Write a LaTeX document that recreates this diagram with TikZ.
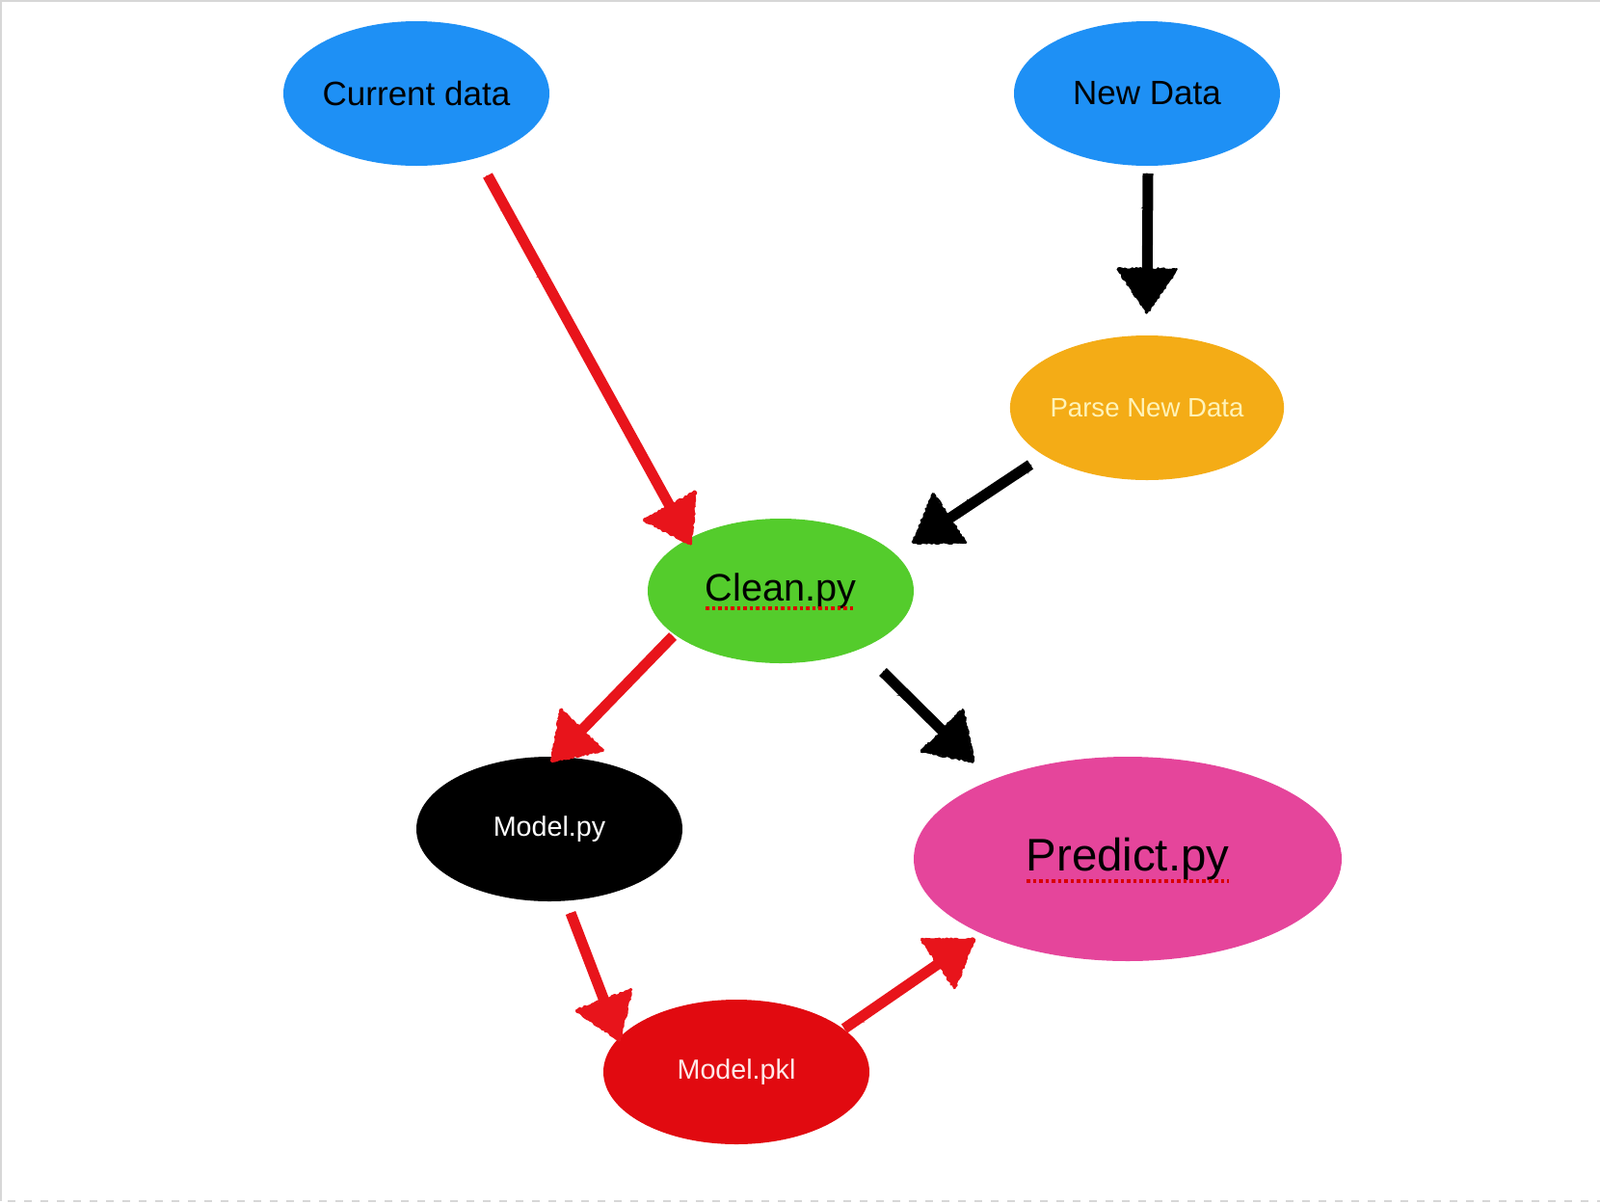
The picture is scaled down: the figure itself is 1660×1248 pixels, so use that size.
\documentclass[tikz,border=0pt]{standalone}
\usepackage{fontspec}
\setmainfont{Liberation Sans}
\usetikzlibrary{arrows.meta,decorations.pathmorphing,shapes.geometric,calc}
\definecolor{cblue}{RGB}{30,144,245}
\definecolor{corange}{RGB}{244,172,22}
\definecolor{cgreen}{RGB}{84,204,44}
\definecolor{cpink}{RGB}{229,69,155}
\definecolor{cred}{RGB}{225,10,16}
\definecolor{carrowred}{RGB}{232,20,27}
\definecolor{cparse}{RGB}{255,243,184}
\definecolor{cpkl}{RGB}{255,232,232}
\definecolor{cframe}{RGB}{215,215,215}
\tikzset{
  blob/.style={ellipse, inner sep=0pt, minimum width=276pt, minimum height=150pt, draw=none},
  fs/.style={font=\fontsize{#1}{#1}\selectfont},
  shaft/.style={line width=11pt},
  rough/.style={line width=3pt, decorate, decoration={random steps, segment length=2.5pt, amplitude=2.2pt}},
  roughhead/.style={line width=2pt, line join=round, decorate, decoration={random steps, segment length=2pt, amplitude=1pt}},
  spell/.style={draw=red!85!black, line width=3.5pt, dash pattern=on 3.5pt off 3pt}
}
\begin{document}
\begin{tikzpicture}[x=1pt,y=-1pt]
\useasboundingbox (0,0) rectangle (1660,1248);
\fill[white] (0,0) rectangle (1660,1248);
\draw[cframe, line width=2pt] (1660,1) -- (1,1) -- (1,1246);
\draw[cframe, line width=2pt, dash pattern=on 8pt off 9pt] (8,1246) -- (1660,1246);

% nodes
\node[blob, fill=cblue, fs=35pt] (cur) at (432,97) {Current data};
\node[blob, fill=cblue, fs=35pt] (new) at (1190,97) {New Data};
\node[blob, fill=corange, text=cparse, fs=27.6pt] (parse) at (1190,423) {Parse New Data};
\node[blob, fill=cgreen, fs=39.7pt] (clean) at (810,613) {Clean.py};
\node[blob, fill=black, text=white, fs=28.7pt] (model) at (570,860) {Model.py};
\node[blob, fill=cpink, fs=47.4pt, minimum width=444pt, minimum height=212pt] (pred) at (1170,891) {Predict.py};
\node[blob, fill=cred, text=cpkl, fs=28.7pt] (pkl) at (764,1112) {Model.pkl};

% spell-check underlines
\draw[spell] ([xshift=-78pt,yshift=-18pt]clean.center) -- ([xshift=78pt,yshift=-18pt]clean.center);
\draw[spell] ([xshift=-105pt,yshift=-23pt]pred.center) -- ([xshift=105pt,yshift=-23pt]pred.center);

% arrow end points
\coordinate (a1s) at (506,182); \coordinate (a1e) at (717,565);
\coordinate (a2s) at (1191,180); \coordinate (a2e) at (1190,325);
\coordinate (a3s) at (1069,482); \coordinate (a3e) at (947,563);
\coordinate (a4s) at (698,660); \coordinate (a4e) at (572,790);
\coordinate (a5s) at (916,697); \coordinate (a5e) at (1010,790);
\coordinate (a6s) at (592,947); \coordinate (a6e) at (643,1080);
\coordinate (a7s) at (876,1067); \coordinate (a7e) at (1011,974);

% crayon arrows
\foreach \s/\e/\c in {a1s/a1e/carrowred, a4s/a4e/carrowred, a6s/a6e/carrowred, a7s/a7e/carrowred,
                      a2s/a2e/black, a3s/a3e/black, a5s/a5e/black}{
  \coordinate (hb) at ($(\e)!46pt!(\s)$);
  \coordinate (hl) at ($(hb)!31pt!90:(\e)$);
  \coordinate (hr) at ($(hb)!31pt!-90:(\e)$);
  \draw[shaft, draw=\c] (\s) -- ($(\e)!36pt!(\s)$);
  \draw[rough, draw=\c] (\s) -- (hb);
  \fill[\c] (\e) -- (hl) -- (hr) -- cycle;
  \draw[roughhead, draw=\c] (\e) -- (hl);
  \draw[roughhead, draw=\c] (hl) -- (hr);
  \draw[roughhead, draw=\c] (hr) -- (\e);
}
\end{tikzpicture}
\end{document}
